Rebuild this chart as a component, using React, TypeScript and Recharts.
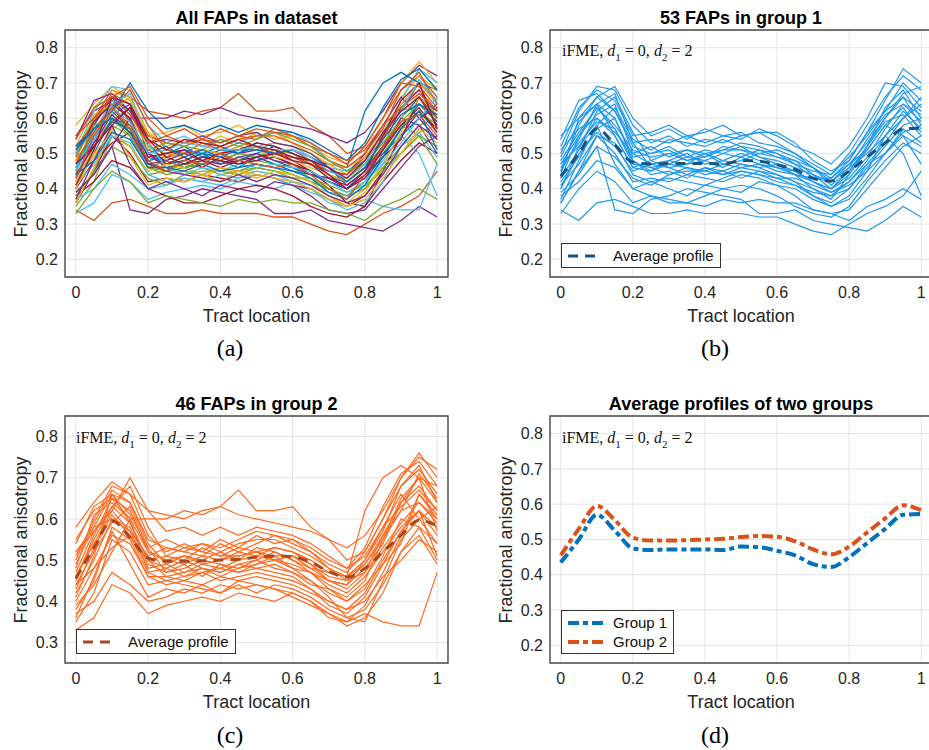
import React from 'react';
import { LineChart, Line, XAxis, YAxis, CartesianGrid, ReferenceArea } from 'recharts';

// sampled tract positions and axis ticks
const TRACT_X = [0, 0.05, 0.1, 0.15, 0.2, 0.25, 0.3, 0.35, 0.4, 0.45, 0.5, 0.55, 0.6, 0.65, 0.7, 0.75, 0.8, 0.85, 0.9, 0.95, 1];
const X_TICKS = [0, 0.2, 0.4, 0.6, 0.8, 1];
const Y_TICKS_FULL = [0.2, 0.3, 0.4, 0.5, 0.6, 0.7, 0.8];
const Y_TICKS_G2 = [0.3, 0.4, 0.5, 0.6, 0.7, 0.8];

// group 1 FAPs
const GROUP1_PROFILES = [
  [0.45, 0.58, 0.66, 0.62, 0.52, 0.50, 0.52, 0.49, 0.51, 0.50, 0.52, 0.49, 0.47, 0.45, 0.42, 0.40, 0.45, 0.52, 0.60, 0.66, 0.62],
  [0.52, 0.63, 0.68, 0.65, 0.55, 0.56, 0.58, 0.55, 0.56, 0.58, 0.55, 0.56, 0.53, 0.50, 0.47, 0.44, 0.50, 0.58, 0.66, 0.72, 0.68],
  [0.40, 0.52, 0.60, 0.55, 0.46, 0.45, 0.47, 0.46, 0.44, 0.45, 0.47, 0.46, 0.44, 0.42, 0.40, 0.38, 0.40, 0.46, 0.52, 0.58, 0.60],
  [0.36, 0.45, 0.55, 0.50, 0.42, 0.43, 0.42, 0.44, 0.43, 0.42, 0.44, 0.43, 0.41, 0.40, 0.37, 0.35, 0.38, 0.45, 0.55, 0.62, 0.57],
  [0.34, 0.31, 0.36, 0.37, 0.35, 0.33, 0.33, 0.34, 0.33, 0.33, 0.33, 0.32, 0.32, 0.30, 0.28, 0.27, 0.30, 0.33, 0.35, 0.38, 0.45],
  [0.36, 0.45, 0.52, 0.34, 0.33, 0.37, 0.38, 0.40, 0.39, 0.38, 0.37, 0.33, 0.33, 0.34, 0.31, 0.30, 0.29, 0.28, 0.31, 0.35, 0.32],
  [0.50, 0.62, 0.69, 0.68, 0.58, 0.53, 0.55, 0.52, 0.54, 0.53, 0.55, 0.56, 0.56, 0.53, 0.48, 0.45, 0.48, 0.56, 0.65, 0.74, 0.70],
  [0.47, 0.55, 0.61, 0.64, 0.50, 0.47, 0.48, 0.50, 0.47, 0.48, 0.50, 0.48, 0.46, 0.44, 0.43, 0.42, 0.46, 0.50, 0.55, 0.60, 0.64],
  [0.42, 0.49, 0.57, 0.60, 0.48, 0.44, 0.45, 0.43, 0.46, 0.44, 0.45, 0.44, 0.43, 0.41, 0.38, 0.36, 0.40, 0.47, 0.50, 0.56, 0.58],
  [0.44, 0.60, 0.64, 0.55, 0.46, 0.48, 0.46, 0.47, 0.48, 0.50, 0.49, 0.51, 0.50, 0.47, 0.43, 0.43, 0.47, 0.51, 0.58, 0.55, 0.52],
  [0.38, 0.42, 0.48, 0.46, 0.40, 0.38, 0.36, 0.36, 0.38, 0.40, 0.41, 0.40, 0.38, 0.35, 0.33, 0.32, 0.35, 0.42, 0.48, 0.53, 0.50],
  [0.48, 0.56, 0.63, 0.58, 0.51, 0.49, 0.50, 0.51, 0.50, 0.47, 0.48, 0.50, 0.49, 0.47, 0.45, 0.44, 0.49, 0.55, 0.62, 0.70, 0.65],
  [0.54, 0.65, 0.67, 0.62, 0.53, 0.54, 0.53, 0.55, 0.53, 0.55, 0.56, 0.53, 0.52, 0.50, 0.46, 0.41, 0.45, 0.52, 0.63, 0.68, 0.60],
  [0.41, 0.47, 0.55, 0.53, 0.44, 0.42, 0.43, 0.42, 0.41, 0.43, 0.45, 0.44, 0.42, 0.41, 0.39, 0.38, 0.42, 0.48, 0.55, 0.50, 0.38],
  [0.46, 0.53, 0.59, 0.57, 0.47, 0.46, 0.47, 0.49, 0.48, 0.46, 0.49, 0.47, 0.45, 0.44, 0.42, 0.40, 0.43, 0.49, 0.57, 0.64, 0.59],
  [0.43, 0.51, 0.62, 0.66, 0.56, 0.48, 0.50, 0.48, 0.49, 0.52, 0.51, 0.49, 0.48, 0.46, 0.44, 0.42, 0.47, 0.53, 0.60, 0.67, 0.69],
  [0.39, 0.44, 0.52, 0.49, 0.43, 0.41, 0.44, 0.45, 0.45, 0.44, 0.46, 0.45, 0.43, 0.43, 0.41, 0.39, 0.41, 0.45, 0.50, 0.55, 0.47],
  [0.49, 0.59, 0.64, 0.60, 0.49, 0.50, 0.51, 0.48, 0.50, 0.51, 0.53, 0.52, 0.50, 0.48, 0.44, 0.40, 0.44, 0.51, 0.58, 0.63, 0.56],
  [0.55, 0.60, 0.66, 0.69, 0.60, 0.55, 0.57, 0.54, 0.57, 0.55, 0.54, 0.57, 0.55, 0.52, 0.50, 0.47, 0.52, 0.60, 0.70, 0.69, 0.63],
  [0.37, 0.48, 0.58, 0.47, 0.40, 0.42, 0.40, 0.38, 0.41, 0.40, 0.39, 0.42, 0.41, 0.38, 0.34, 0.33, 0.34, 0.40, 0.46, 0.52, 0.55],
  [0.45, 0.54, 0.64, 0.67, 0.53, 0.46, 0.44, 0.46, 0.45, 0.47, 0.46, 0.47, 0.46, 0.45, 0.42, 0.39, 0.42, 0.47, 0.53, 0.60, 0.66],
  [0.51, 0.57, 0.60, 0.56, 0.50, 0.52, 0.49, 0.51, 0.49, 0.51, 0.51, 0.50, 0.51, 0.49, 0.46, 0.42, 0.46, 0.54, 0.61, 0.64, 0.61],
  [0.40, 0.50, 0.56, 0.52, 0.45, 0.47, 0.46, 0.44, 0.46, 0.45, 0.43, 0.45, 0.44, 0.42, 0.38, 0.35, 0.37, 0.43, 0.50, 0.57, 0.53],
  [0.33, 0.40, 0.45, 0.42, 0.36, 0.38, 0.37, 0.36, 0.35, 0.37, 0.36, 0.37, 0.36, 0.36, 0.34, 0.33, 0.31, 0.35, 0.37, 0.40, 0.37],
  [0.47, 0.52, 0.58, 0.63, 0.54, 0.51, 0.54, 0.53, 0.52, 0.54, 0.52, 0.51, 0.49, 0.48, 0.46, 0.43, 0.48, 0.56, 0.62, 0.66, 0.58],
  [0.43, 0.55, 0.63, 0.57, 0.48, 0.45, 0.48, 0.47, 0.50, 0.48, 0.47, 0.46, 0.47, 0.44, 0.40, 0.37, 0.44, 0.52, 0.59, 0.61, 0.55],
];

// group 2 FAPs
const GROUP2_PROFILES = [
  [0.50, 0.60, 0.68, 0.66, 0.62, 0.61, 0.60, 0.62, 0.63, 0.67, 0.62, 0.62, 0.63, 0.58, 0.55, 0.50, 0.52, 0.60, 0.68, 0.72, 0.66],
  [0.55, 0.62, 0.65, 0.60, 0.60, 0.60, 0.62, 0.61, 0.63, 0.61, 0.60, 0.59, 0.58, 0.57, 0.55, 0.53, 0.56, 0.62, 0.70, 0.75, 0.72],
  [0.45, 0.56, 0.65, 0.62, 0.52, 0.50, 0.51, 0.49, 0.50, 0.52, 0.51, 0.53, 0.52, 0.49, 0.46, 0.45, 0.49, 0.55, 0.62, 0.64, 0.59],
  [0.42, 0.50, 0.60, 0.58, 0.49, 0.47, 0.48, 0.50, 0.49, 0.48, 0.50, 0.52, 0.50, 0.47, 0.44, 0.42, 0.46, 0.52, 0.58, 0.62, 0.56],
  [0.58, 0.64, 0.69, 0.66, 0.56, 0.52, 0.54, 0.52, 0.55, 0.53, 0.56, 0.54, 0.55, 0.52, 0.49, 0.47, 0.52, 0.60, 0.70, 0.76, 0.70],
  [0.35, 0.42, 0.55, 0.52, 0.44, 0.45, 0.46, 0.48, 0.47, 0.49, 0.48, 0.47, 0.46, 0.43, 0.40, 0.38, 0.42, 0.50, 0.57, 0.62, 0.58],
  [0.40, 0.48, 0.53, 0.56, 0.50, 0.46, 0.47, 0.48, 0.46, 0.48, 0.49, 0.51, 0.48, 0.45, 0.41, 0.36, 0.35, 0.45, 0.55, 0.60, 0.63],
  [0.47, 0.57, 0.63, 0.68, 0.58, 0.51, 0.50, 0.53, 0.51, 0.53, 0.52, 0.50, 0.51, 0.48, 0.45, 0.44, 0.48, 0.54, 0.64, 0.68, 0.62],
  [0.52, 0.58, 0.66, 0.59, 0.50, 0.48, 0.46, 0.47, 0.48, 0.50, 0.51, 0.50, 0.49, 0.47, 0.45, 0.44, 0.50, 0.58, 0.66, 0.60, 0.54],
  [0.33, 0.36, 0.44, 0.42, 0.37, 0.39, 0.40, 0.41, 0.40, 0.42, 0.41, 0.40, 0.42, 0.40, 0.36, 0.35, 0.37, 0.35, 0.34, 0.34, 0.47],
  [0.46, 0.54, 0.62, 0.57, 0.48, 0.49, 0.51, 0.50, 0.52, 0.50, 0.53, 0.52, 0.50, 0.48, 0.47, 0.46, 0.62, 0.70, 0.73, 0.70, 0.68],
  [0.48, 0.61, 0.64, 0.60, 0.52, 0.50, 0.49, 0.51, 0.50, 0.51, 0.52, 0.53, 0.52, 0.50, 0.47, 0.46, 0.49, 0.56, 0.64, 0.70, 0.64],
  [0.38, 0.45, 0.58, 0.55, 0.46, 0.44, 0.45, 0.44, 0.46, 0.45, 0.46, 0.45, 0.44, 0.42, 0.40, 0.38, 0.40, 0.46, 0.50, 0.55, 0.52],
  [0.44, 0.52, 0.59, 0.63, 0.53, 0.47, 0.49, 0.46, 0.49, 0.47, 0.48, 0.49, 0.47, 0.45, 0.42, 0.40, 0.44, 0.49, 0.54, 0.66, 0.60],
  [0.51, 0.59, 0.67, 0.64, 0.55, 0.53, 0.52, 0.54, 0.52, 0.54, 0.55, 0.55, 0.53, 0.51, 0.48, 0.46, 0.50, 0.57, 0.68, 0.73, 0.64],
  [0.43, 0.53, 0.61, 0.56, 0.47, 0.48, 0.50, 0.48, 0.47, 0.49, 0.50, 0.48, 0.47, 0.44, 0.43, 0.40, 0.43, 0.51, 0.60, 0.58, 0.50],
  [0.37, 0.40, 0.47, 0.44, 0.40, 0.41, 0.43, 0.42, 0.44, 0.43, 0.44, 0.43, 0.41, 0.39, 0.37, 0.34, 0.36, 0.42, 0.52, 0.56, 0.49],
  [0.52, 0.57, 0.62, 0.70, 0.62, 0.57, 0.58, 0.56, 0.58, 0.56, 0.58, 0.57, 0.56, 0.54, 0.51, 0.48, 0.53, 0.63, 0.71, 0.74, 0.68],
  [0.36, 0.46, 0.57, 0.49, 0.41, 0.43, 0.42, 0.44, 0.42, 0.45, 0.44, 0.43, 0.42, 0.40, 0.37, 0.35, 0.39, 0.47, 0.56, 0.66, 0.61],
  [0.49, 0.58, 0.60, 0.57, 0.51, 0.53, 0.52, 0.51, 0.54, 0.52, 0.54, 0.56, 0.54, 0.52, 0.48, 0.45, 0.47, 0.53, 0.59, 0.64, 0.60],
  [0.41, 0.51, 0.66, 0.64, 0.54, 0.49, 0.47, 0.49, 0.48, 0.47, 0.49, 0.50, 0.48, 0.47, 0.43, 0.41, 0.45, 0.55, 0.65, 0.70, 0.57],
  [0.54, 0.63, 0.66, 0.61, 0.53, 0.55, 0.53, 0.54, 0.53, 0.55, 0.57, 0.56, 0.55, 0.53, 0.50, 0.48, 0.51, 0.58, 0.63, 0.67, 0.62],
  [0.39, 0.44, 0.52, 0.60, 0.47, 0.45, 0.44, 0.43, 0.42, 0.44, 0.42, 0.44, 0.43, 0.41, 0.38, 0.36, 0.38, 0.44, 0.52, 0.58, 0.54],
  [0.46, 0.55, 0.63, 0.59, 0.50, 0.51, 0.53, 0.52, 0.51, 0.51, 0.52, 0.51, 0.51, 0.49, 0.45, 0.43, 0.47, 0.56, 0.62, 0.71, 0.65],
  [0.44, 0.48, 0.56, 0.54, 0.46, 0.46, 0.45, 0.47, 0.45, 0.46, 0.47, 0.46, 0.45, 0.43, 0.39, 0.37, 0.41, 0.49, 0.57, 0.62, 0.51],
];

// average profiles (panel d)
const GROUP1_AVERAGE = [0.435, 0.50, 0.570, 0.525, 0.475, 0.470, 0.472, 0.472, 0.472, 0.470, 0.480, 0.478, 0.468, 0.455, 0.430, 0.422, 0.450, 0.490, 0.530, 0.570, 0.572];
const GROUP2_AVERAGE = [0.455, 0.530, 0.595, 0.555, 0.505, 0.497, 0.497, 0.498, 0.500, 0.502, 0.507, 0.510, 0.508, 0.495, 0.472, 0.458, 0.480, 0.520, 0.560, 0.597, 0.583];

const LINE_COLORS = ['#0072BD', '#D95319', '#EDB120', '#7E2F8E', '#77AC30', '#4DBEEE', '#A2142F'];
const G1_COLOR = '#1f98ee';
const G2_COLOR = '#ff6a1f';
const G1_AVG_COLOR = '#16557f';
const G2_AVG_COLOR = '#a9481c';

const FONT = '"Liberation Sans", Arial, Helvetica, sans-serif';
const SERIF = '"Liberation Serif", "DejaVu Serif", serif';
const X_DOMAIN = [-0.03, 1.03];

const rows = TRACT_X.map((x, i) => {
  const row: Record<string, number> = { x, avg1: GROUP1_AVERAGE[i], avg2: GROUP2_AVERAGE[i] };
  GROUP1_PROFILES.forEach((p, k) => { row[`g1_${k}`] = p[i]; });
  GROUP2_PROFILES.forEach((p, k) => { row[`g2_${k}`] = p[i]; });
  return row;
});

const center: React.CSSProperties = {
  position: 'absolute', transform: 'translate(-50%, -50%)', whiteSpace: 'nowrap', lineHeight: 1, color: '#000',
};

const Annotation = ({ left, top }: { left: number; top: number }) => (
  <div style={{ position: 'absolute', left, top, transform: 'translateY(-50%)', fontFamily: SERIF, fontSize: 16, whiteSpace: 'nowrap', lineHeight: 1, color: '#111' }}>
    iFME, <i>d</i><sub style={{ fontSize: 11 }}>1</sub> = 0, <i>d</i><sub style={{ fontSize: 11 }}>2</sub> = 2
  </div>
);

type LegendItem = { label: string; color: string; dash: string; width: number };

const LegendBox = ({ left, top, width, items }: { left: number; top: number; width: number; items: LegendItem[] }) => (
  <div style={{ position: 'absolute', left, top, width, background: '#fff', border: '1px solid #333', padding: '2px 0', fontFamily: FONT, fontSize: 15, color: '#111' }}>
    {items.map((it) => (
      <div key={it.label} style={{ display: 'flex', alignItems: 'center', height: 19 }}>
        <svg width={48} height={10} style={{ flex: 'none' }}>
          <line x1={6} x2={it.width > 3 ? 44 : 40} y1={5} y2={5} stroke={it.color} strokeWidth={it.width} strokeDasharray={it.dash} />
        </svg>
        <span style={{ marginLeft: 3 }}>{it.label}</span>
      </div>
    ))}
  </div>
);

type PanelProps = {
  left: number;
  top: number;
  width: number;
  marginLeft: number;
  marginRight: number;
  marginTop: number;
  marginBottom: number;
  yDomain: number[];
  yTicks: number[];
  title: string;
  caption: string;
  children: React.ReactNode;
  overlay?: React.ReactNode;
};

const Panel = ({ left, top, width, marginLeft, marginRight, marginTop, marginBottom, yDomain, yTicks, title, caption, children, overlay }: PanelProps) => {
  const height = 370;
  const plotLeft = marginLeft + 40;
  const plotRight = width - marginRight;
  const plotTop = marginTop;
  const plotBottom = height - marginBottom - 30;
  const cx = (plotLeft + plotRight) / 2;
  return (
    <div style={{ position: 'absolute', left, top, width, height }}>
      <LineChart width={width} height={height} data={rows} margin={{ top: marginTop, right: marginRight, bottom: marginBottom, left: marginLeft }}>
        <CartesianGrid stroke="#e4e4e4" strokeWidth={1} />
        <XAxis dataKey="x" type="number" domain={X_DOMAIN} ticks={X_TICKS} allowDataOverflow height={30}
          tickLine={false} axisLine={false} tickSize={0} tickMargin={10}
          tick={{ fill: '#262626', fontSize: 16, fontFamily: FONT }} />
        <YAxis type="number" domain={yDomain} ticks={yTicks} allowDataOverflow width={40}
          tickLine={false} axisLine={false} tickSize={0} tickMargin={7}
          tick={{ fill: '#262626', fontSize: 16, fontFamily: FONT }} />
        {children}
        <ReferenceArea x1={X_DOMAIN[0]} x2={X_DOMAIN[1]} y1={yDomain[0]} y2={yDomain[1]} fill="none" stroke="#4a4a4a" strokeWidth={1.4} ifOverflow="visible" />
      </LineChart>
      <div style={{ ...center, left: cx, top: top === 0 ? 18 : 24, fontFamily: FONT, fontWeight: 700, fontSize: 18 }}>{title}</div>
      <div style={{ ...center, left: plotLeft - 44.5, top: (plotTop + plotBottom) / 2, transform: 'translate(-50%, -50%) rotate(-90deg)', fontFamily: FONT, fontSize: 18, color: '#262626' }}>Fractional anisotropy</div>
      <div style={{ ...center, left: cx, top: plotBottom + 39, fontFamily: FONT, fontSize: 18, color: '#262626' }}>Tract location</div>
      <div style={{ ...center, left: plotLeft + 165, top: top === 0 ? 348 : 355, fontFamily: SERIF, fontSize: 24 }}>{caption}</div>
      {overlay}
    </div>
  );
};

const curveLine = (key: string, color: string, width = 1.1) => (
  <Line key={key} dataKey={key} type="linear" stroke={color} strokeWidth={width} dot={false} activeDot={false} isAnimationActive={false} />
);

export default function App() {
  // interleave the two groups so the colour cycle mixes them, as in panel (a)
  const allKeys: string[] = [];
  const n = Math.max(GROUP1_PROFILES.length, GROUP2_PROFILES.length);
  for (let k = 0; k < n; k++) {
    if (k < GROUP1_PROFILES.length) allKeys.push(`g1_${k}`);
    if (k < GROUP2_PROFILES.length) allKeys.push(`g2_${k}`);
  }
  return (
    <div style={{ position: 'absolute', left: 0, top: 0, width: 929, height: 750, overflow: 'hidden', background: '#fff' }}>
      <Panel left={0} top={0} width={465} marginLeft={25} marginRight={17} marginTop={30} marginBottom={63}
        yDomain={[0.15, 0.85]} yTicks={Y_TICKS_FULL} title="All FAPs in dataset" caption="(a)">
        {allKeys.map((k, i) => curveLine(k, LINE_COLORS[i % LINE_COLORS.length], 1.3))}
      </Panel>

      <Panel left={465} top={0} width={470} marginLeft={45} marginRight={3} marginTop={30} marginBottom={63}
        yDomain={[0.15, 0.85]} yTicks={Y_TICKS_FULL} title="53 FAPs in group 1" caption="(b)"
        overlay={<>
          <Annotation left={97} top={53} />
          <LegendBox left={96} top={243} width={158} items={[{ label: 'Average profile', color: G1_AVG_COLOR, dash: '10 7', width: 3 }]} />
        </>}>
        {GROUP1_PROFILES.map((_, k) => curveLine(`g1_${k}`, G1_COLOR, 1.2))}
        <Line dataKey="avg1" type="monotone" stroke={G1_AVG_COLOR} strokeWidth={3} strokeDasharray="10 7" dot={false} activeDot={false} isAnimationActive={false} />
      </Panel>

      <Panel left={0} top={380} width={465} marginLeft={25} marginRight={17} marginTop={36} marginBottom={57}
        yDomain={[0.25, 0.85]} yTicks={Y_TICKS_G2} title="46 FAPs in group 2" caption="(c)"
        overlay={<>
          <Annotation left={76} top={60} />
          <LegendBox left={76} top={249} width={158} items={[{ label: 'Average profile', color: G2_AVG_COLOR, dash: '10 7', width: 3 }]} />
        </>}>
        {GROUP2_PROFILES.map((_, k) => curveLine(`g2_${k}`, G2_COLOR, 1.2))}
        <Line dataKey="avg2" type="monotone" stroke={G2_AVG_COLOR} strokeWidth={3} strokeDasharray="10 7" dot={false} activeDot={false} isAnimationActive={false} />
      </Panel>

      <Panel left={465} top={380} width={470} marginLeft={45} marginRight={3} marginTop={36} marginBottom={57}
        yDomain={[0.15, 0.85]} yTicks={Y_TICKS_FULL} title="Average profiles of two groups" caption="(d)"
        overlay={<>
          <Annotation left={97} top={60} />
          <LegendBox left={96} top={230} width={111} items={[
            { label: 'Group 1', color: '#0072BD', dash: '11 4 5 4', width: 4 },
            { label: 'Group 2', color: '#D95319', dash: '11 4 5 4', width: 4 },
          ]} />
        </>}>
        <Line dataKey="avg1" type="monotone" stroke="#0072BD" strokeWidth={4} strokeDasharray="11 4 5 4" dot={false} activeDot={false} isAnimationActive={false} />
        <Line dataKey="avg2" type="monotone" stroke="#D95319" strokeWidth={4} strokeDasharray="11 4 5 4" dot={false} activeDot={false} isAnimationActive={false} />
      </Panel>
    </div>
  );
}
